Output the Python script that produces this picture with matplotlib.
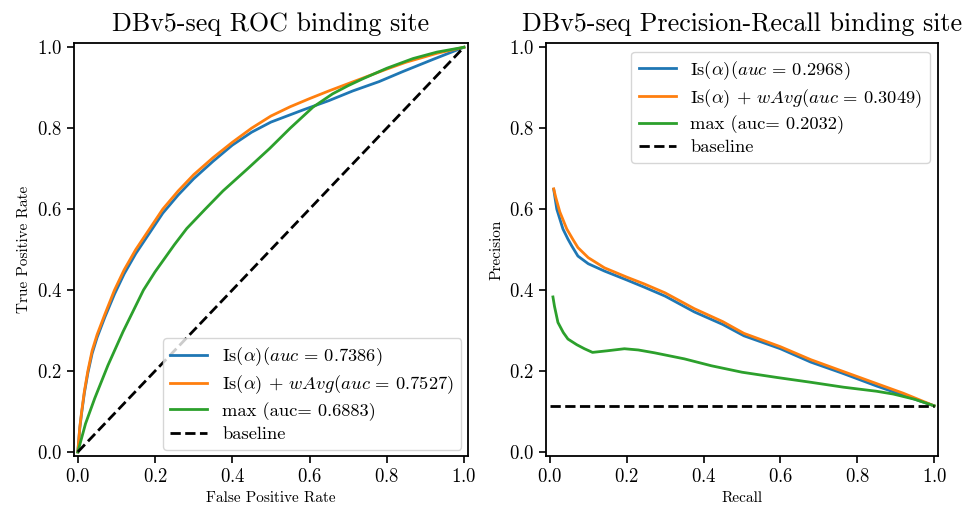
import numpy as np
import matplotlib
matplotlib.use('Agg')
import matplotlib.pyplot as plt

plt.rcParams['font.family'] = 'serif'
plt.rcParams['font.serif'] = ['cmr10']
plt.rcParams['mathtext.fontset'] = 'cm'
plt.rcParams['axes.formatter.use_mathtext'] = True

# ROC curves
roc_is_fpr = [0, 0.005, 0.01, 0.017, 0.026, 0.037, 0.05, 0.07, 0.095, 0.12, 0.15, 0.185, 0.22, 0.26, 0.30, 0.35, 0.40,
              0.45, 0.50, 0.583, 0.65, 0.712, 0.78, 0.842, 0.92, 1.0]
roc_is_tpr = [0, 0.058, 0.097, 0.146, 0.195, 0.243, 0.283, 0.333, 0.39, 0.44, 0.49, 0.54, 0.59, 0.635, 0.675, 0.718, 0.758,
              0.79, 0.815, 0.845, 0.868, 0.892, 0.915, 0.94, 0.97, 1.0]
roc_wavg_fpr = [0, 0.005, 0.01, 0.017, 0.026, 0.037, 0.05, 0.07, 0.095, 0.12, 0.15, 0.185, 0.22, 0.26, 0.30, 0.35, 0.40,
                0.45, 0.50, 0.55, 0.60, 0.65, 0.70, 0.75, 0.80, 0.85, 0.93, 1.0]
roc_wavg_tpr = [0, 0.06, 0.10, 0.15, 0.20, 0.25, 0.29, 0.34, 0.40, 0.45, 0.50, 0.55, 0.60, 0.645, 0.685, 0.727, 0.765,
                0.80, 0.83, 0.853, 0.873, 0.892, 0.91, 0.928, 0.946, 0.963, 0.985, 1.0]
roc_max_fpr = [0, 0.02, 0.044, 0.078, 0.117, 0.17, 0.20, 0.25, 0.282, 0.33, 0.376, 0.44, 0.497, 0.55, 0.609, 0.66, 0.70,
               0.738, 0.80, 0.868, 0.93, 1.0]
roc_max_tpr = [0, 0.07, 0.133, 0.214, 0.297, 0.40, 0.445, 0.512, 0.552, 0.60, 0.645, 0.70, 0.75, 0.80, 0.852, 0.885, 0.905,
               0.922, 0.948, 0.972, 0.988, 1.0]

# precision-recall curves
pr_is_rec = [0.01, 0.018, 0.034, 0.047, 0.057, 0.073, 0.10, 0.142, 0.20, 0.246, 0.30, 0.376, 0.45, 0.505, 0.60, 0.679, 0.76, 0.85, 0.92, 1.0]
pr_is_prec = [0.649, 0.60, 0.551, 0.526, 0.509, 0.484, 0.465, 0.447, 0.425, 0.407, 0.385, 0.346, 0.315, 0.287, 0.255, 0.222, 0.195, 0.163, 0.14, 0.114]
pr_wavg_rec = [0.01, 0.015, 0.026, 0.044, 0.06, 0.073, 0.10, 0.142, 0.20, 0.246, 0.30, 0.376, 0.45, 0.505, 0.60, 0.679, 0.76, 0.85, 0.92, 1.0]
pr_wavg_prec = [0.65, 0.63, 0.593, 0.551, 0.525, 0.505, 0.48, 0.455, 0.432, 0.415, 0.393, 0.354, 0.322, 0.293, 0.26, 0.228, 0.20, 0.169, 0.145, 0.114]
pr_max_rec = [0.008, 0.012, 0.021, 0.035, 0.047, 0.07, 0.09, 0.111, 0.15, 0.194, 0.23, 0.272, 0.35, 0.42, 0.50, 0.591, 0.68, 0.764, 0.85, 0.894, 0.95, 1.0]
pr_max_prec = [0.383, 0.36, 0.32, 0.295, 0.279, 0.265, 0.255, 0.246, 0.25, 0.255, 0.252, 0.245, 0.23, 0.213, 0.197, 0.184, 0.172, 0.16, 0.15, 0.143, 0.13, 0.114]
pr_baseline = 0.114

roc_labels = [r'Is($\alpha$)($auc\,=\,0.7386$)', r'Is($\alpha$) $+$ $wAvg(auc\,=\,0.7527$)', 'max (auc= 0.6883)', 'baseline']
pr_labels = [r'Is($\alpha$)($auc\,=\,0.2968$)', r'Is($\alpha$) $+$ $wAvg(auc\,=\,0.3049$)', 'max (auc= 0.2032)', 'baseline']

fig = plt.figure(figsize=(9.63, 5.16), dpi=100)
ax1 = fig.add_axes([0.0768, 0.1163, 0.409, 0.800])
ax2 = fig.add_axes([0.567, 0.1163, 0.407, 0.800])

lw = 2.0
ax1.plot(roc_is_fpr, roc_is_tpr, color='#1f77b4', lw=lw, label=roc_labels[0])
ax1.plot(roc_wavg_fpr, roc_wavg_tpr, color='#ff7f0e', lw=lw, label=roc_labels[1])
ax1.plot(roc_max_fpr, roc_max_tpr, color='#2ca02c', lw=lw, label=roc_labels[2])
ax1.plot([0, 1], [0, 1], 'k--', lw=lw, label=roc_labels[3])
ax1.set_xlim(-0.01, 1.01)
ax1.set_ylim(-0.01, 1.01)
ax1.set_xlabel('False Positive Rate', fontsize=11)
ax1.set_ylabel('True Positive Rate', fontsize=11)
ax1.set_title('DBv5-seq ROC binding site', fontsize=18.7, pad=9)
ax1.legend(loc='lower right', fontsize=13.3, labelspacing=0.3, borderaxespad=0.35)

ax2.plot(pr_is_rec, pr_is_prec, color='#1f77b4', lw=lw, label=pr_labels[0])
ax2.plot(pr_wavg_rec, pr_wavg_prec, color='#ff7f0e', lw=lw, label=pr_labels[1])
ax2.plot(pr_max_rec, pr_max_prec, color='#2ca02c', lw=lw, label=pr_labels[2])
ax2.plot([0, 1], [pr_baseline, pr_baseline], 'k--', lw=lw, label=pr_labels[3])
ax2.set_xlim(-0.01, 1.01)
ax2.set_ylim(-0.01, 1.01)
ax2.set_xlabel('Recall', fontsize=11)
ax2.set_ylabel('Precision', fontsize=11)
ax2.set_title('DBv5-seq Precision-Recall binding site', fontsize=18.7, pad=9)
ax2.legend(loc='upper right', fontsize=13.3, labelspacing=0.3, borderaxespad=0.45)

for ax in (ax1, ax2):
    ax.set_xticks([0, 0.2, 0.4, 0.6, 0.8, 1.0])
    ax.set_yticks([0, 0.2, 0.4, 0.6, 0.8, 1.0])
    ax.tick_params(labelsize=13.5, width=1.2, length=5)
    for s in ax.spines.values():
        s.set_linewidth(1.3)

fig.savefig('out.png', dpi=100)
